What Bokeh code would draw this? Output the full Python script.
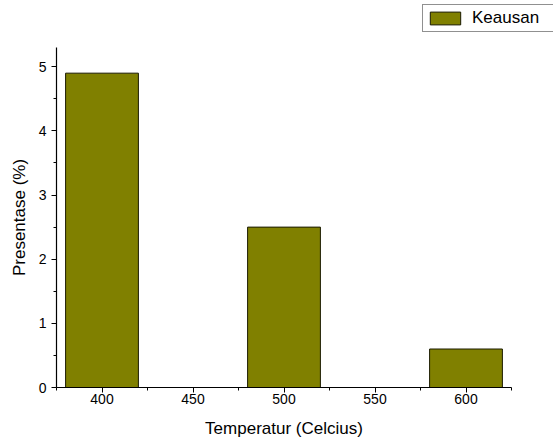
from bokeh.plotting import figure
from bokeh.layouts import column
from bokeh.models import FixedTicker, Legend, LegendItem, Range1d
from bokeh.embed import file_html
from bokeh.resources import INLINE

temps = [400, 500, 600]
keausan = [4.9, 2.5, 0.6]
x_ticks = [400, 450, 500, 550, 600]
x_minor = [375, 425, 475, 525, 575, 625]
y_ticks = [0, 1, 2, 3, 4, 5]
y_minor = [0.5, 1.5, 2.5, 3.5, 4.5]
series_name = "Keausan"

FONT = "Liberation Sans"
OLIVE = "#808000"
EDGE = "#1a1a00"

# main chart
p = figure(frame_width=455, frame_height=340, output_backend="svg", toolbar_location=None,
           x_range=Range1d(375, 625), y_range=Range1d(0, 5.3),
           min_border_left=56, min_border_right=42, min_border_top=8, min_border_bottom=10)
p.outline_line_color = None
p.grid.visible = False

p.vbar(x=temps, top=keausan, width=40, bottom=0,
       fill_color=OLIVE, line_color=EDGE, line_width=1)

for ax in (p.xaxis[0], p.yaxis[0]):
    ax.axis_line_color = "black"
    ax.axis_line_width = 1.2
    ax.major_tick_line_color = "black"
    ax.minor_tick_line_color = "black"
    ax.major_tick_in = 0
    ax.major_tick_out = 5
    ax.minor_tick_in = 0
    ax.minor_tick_out = 3
    ax.major_label_text_font = FONT
    ax.major_label_text_font_size = "14px"
    ax.major_label_text_color = "black"
    ax.axis_label_text_font = FONT
    ax.axis_label_text_font_size = "17px"
    ax.axis_label_text_font_style = "normal"
    ax.axis_label_text_color = "black"

p.xaxis.ticker = FixedTicker(ticks=x_ticks, minor_ticks=x_minor)
p.yaxis.ticker = FixedTicker(ticks=y_ticks, minor_ticks=y_minor)
p.xaxis.axis_label = "Temperatur (Celcius)"
p.yaxis.axis_label = "Presentase (%)"
p.xaxis.major_label_standoff = 1
p.xaxis.axis_label_standoff = 12
p.yaxis.major_label_standoff = 5
p.yaxis.axis_label_standoff = 7

# legend strip above the chart
top = figure(frame_width=553, frame_height=39, output_backend="svg", toolbar_location=None,
             x_range=Range1d(0, 1), y_range=Range1d(0, 1),
             x_axis_type=None, y_axis_type=None,
             min_border=0)
top.outline_line_color = None
top.grid.visible = False
# key renderer: placed far below the visible range, only feeds the legend swatch
key = top.vbar(x=[0.5], top=[-50], bottom=[-60], width=0.01,
               fill_color=OLIVE, line_color=EDGE, line_width=1)

legend = Legend(items=[LegendItem(label=series_name, renderers=[key])],
                location=(422, 7), orientation="vertical",
                border_line_color="#222222", border_line_width=1,
                background_fill_color="white", background_fill_alpha=1,
                label_text_font=FONT, label_text_font_size="17px",
                label_text_color="black",
                glyph_width=38, glyph_height=16, label_height=16, label_width=90,
                padding=3, spacing=0, margin=0, label_standoff=8)
top.add_layout(legend, "center")

layout = column(top, p, spacing=0)
open("out.html", "w").write(file_html(layout, INLINE))
